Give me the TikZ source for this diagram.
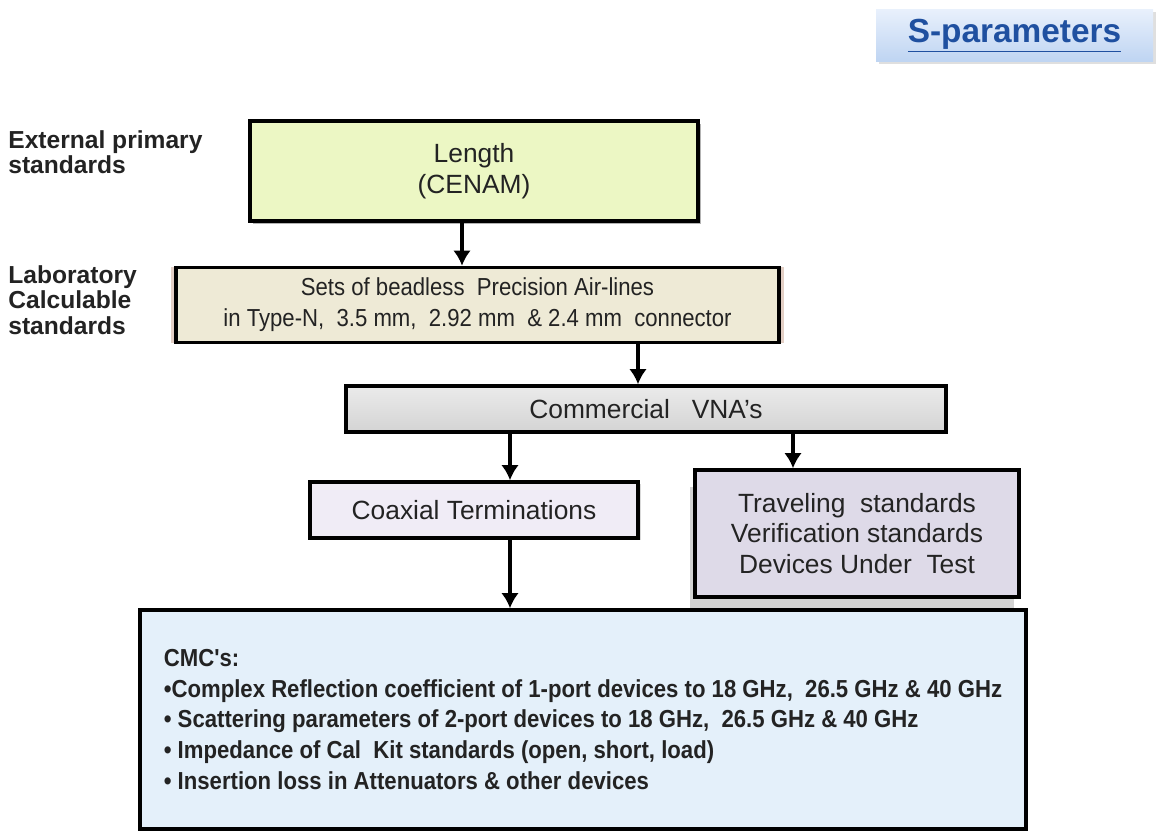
\documentclass[tikz,border=0pt]{standalone}
\usepackage{fontspec}
\setmainfont{Liberation Sans}
\newfontfamily\narrowfont[FakeStretch=0.9]{Liberation Sans}
\newfontfamily\setsfont[FakeStretch=0.9]{Liberation Sans}
\usetikzlibrary{arrows.meta, positioning, calc, shadows}
\tikzset{
	every text node part/.style = {align=center},
	box/.style = {draw, line width=2pt, inner sep=0pt, text={rgb,255:red,35; green,35; blue,35},
		font=\fontsize{15}{17.5}\selectfont},
	arr/.style = {line width=2.5pt, -{Latex[length=3mm, width=3.5mm]}},
	lbl/.style = {font=\bfseries\fontsize{14}{14.5}\selectfont, anchor=north west,
		every text node part/.style={align=left},
		inner sep=0pt, text={rgb,255:red,35; green,35; blue,35}}
}

\begin{document}
\begin{tikzpicture}
	
	\useasboundingbox (0,0) rectangle (23.14,-16.64);
	% title
	\node [minimum width=5.54cm, minimum height=1.04cm, inner sep=0pt,
		top color={rgb,255:red,232; green,240; blue,252}, bottom color={rgb,255:red,190; green,212; blue,242},
		drop shadow={opacity=0.25, shadow xshift=0.05cm, shadow yshift=-0.05cm},
		font=\bfseries\fontsize{19}{22}\selectfont, text={rgb,255:red,31; green,80; blue,160}]
		(spar) at (20.29,-0.72) {\underline{S-parameters}};
	
	% left labels
	\node [lbl] (ext) at (0.16,-2.6) {External primary\\standards};
	\node [lbl] (lab) at (0.16,-5.3) {Laboratory\\Calculable\\standards};
	
	% boxes
	\node [box, minimum width=8.96cm, minimum height=2cm, fill={rgb,255:red,236; green,247; blue,196},
		drop shadow={opacity=0.6, shadow xshift=0.06cm, shadow yshift=-0.06cm}]
		(len) at (9.48,-3.42) {Length\\(CENAM)};
	\node [box, minimum width=12.06cm, minimum height=1.5cm, fill={rgb,255:red,238; green,234; blue,214},
		font=\setsfont\fontsize{14}{17.5}\selectfont,
		drop shadow={fill={rgb,255:red,200; green,160; blue,140}, opacity=0.5, shadow xshift=0cm, shadow yshift=0cm, shadow scale=1.015}]
		(sets) at (9.55,-6.1) {Sets of beadless\ \ Precision Air-lines\\in Type-N,\ \ 3.5 mm,\ \ 2.92 mm\ \ \& 2.4 mm\ \ connector};
	\node [box, minimum width=12cm, minimum height=0.92cm, top color={rgb,255:red,235; green,235; blue,235},
		bottom color={rgb,255:red,212; green,212; blue,212}]
		(vna) at (12.92,-8.18) {Commercial\ \ \ VNA's};
	\node [box, minimum width=6.56cm, minimum height=1.12cm, fill={rgb,255:red,240; green,236; blue,246},
		drop shadow={opacity=0.3, shadow xshift=0.05cm, shadow yshift=-0.05cm}]
		(coax) at (9.48,-10.2) {Coaxial Terminations};
	\node [box, minimum width=6.48cm, minimum height=2.54cm, fill={rgb,255:red,222; green,218; blue,232},
		drop shadow={opacity=0.35, shadow xshift=-0.1cm, shadow yshift=-0.35cm}]
		(trav) at (17.14,-10.67) {Traveling\ \ standards\\Verification standards\\Devices Under\ \ Test};
	\node [box, minimum width=17.72cm, minimum height=4.38cm, fill={rgb,255:red,228; green,240; blue,250},
		font=\narrowfont\bfseries\fontsize{14}{17.5}\selectfont, every text node part/.style={align=left}]
		(cmc) at (11.66,-14.39) {CMC's:\\
			\textbullet Complex Reflection coefficient of 1-port devices to 18 GHz,\ \ 26.5 GHz \& 40 GHz\\
			\textbullet\ Scattering parameters of 2-port devices to 18 GHz,\ \ 26.5 GHz \& 40 GHz\\
			\textbullet\ Impedance of Cal\ \ Kit standards (open, short, load)\\
			\textbullet\ Insertion loss in Attenuators \& other devices};
	
	% connectors
	\coordinate (la) at (9.24,0);
	\coordinate (sa) at (12.76,0);
	\coordinate (ca) at (10.2,0);
	\coordinate (ta) at (15.86,0);
	\draw [arr] (len.south -| la) -- (sets.north -| la);
	\draw [arr] (sets.south -| sa) -- (vna.north -| sa);
	\draw [arr] (vna.south -| ca) -- (coax.north -| ca);
	\draw [arr] (vna.south -| ta) -- (trav.north -| ta);
	\draw [arr] (coax.south -| ca) -- (cmc.north -| ca);
\end{tikzpicture}
\end{document}
